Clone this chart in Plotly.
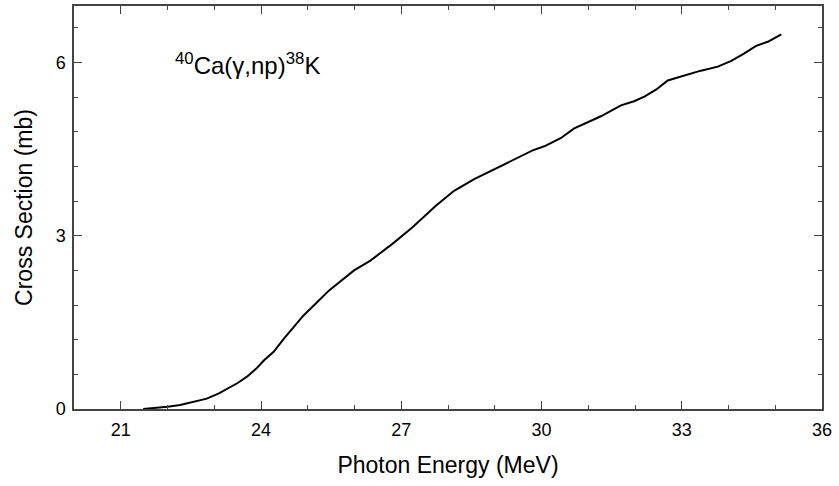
import plotly.graph_objects as go

# Photon energy (MeV) and cross section (mb) for 40Ca(gamma,np)38K
energy = [21.48, 21.8, 22.0, 22.27, 22.5, 22.84, 23.1, 23.34, 23.5, 23.70,
          23.9, 24.06, 24.27, 24.49, 24.70, 24.91, 25.20, 25.45, 25.99, 26.34,
          26.81, 27.23, 27.74, 28.13, 28.56, 29.06, 29.52, 29.81, 30.06, 30.41,
          30.70, 30.99, 31.27, 31.70, 31.98, 32.20, 32.45, 32.70, 33.06, 33.41,
          33.77, 34.06, 34.34, 34.59, 34.84, 35.13]
cross_section = [0.0, 0.02, 0.04, 0.07, 0.11, 0.18, 0.27, 0.37, 0.45, 0.56,
                 0.70, 0.84, 0.99, 1.22, 1.42, 1.62, 1.85, 2.05, 2.40, 2.57,
                 2.86, 3.14, 3.52, 3.78, 3.98, 4.18, 4.36, 4.48, 4.55, 4.69,
                 4.86, 4.97, 5.07, 5.26, 5.33, 5.41, 5.53, 5.69, 5.78, 5.86,
                 5.93, 6.03, 6.16, 6.29, 6.36, 6.49]

x_ticks = [21, 24, 27, 30, 33, 36]
y_ticks = [0, 3, 6]

font_family = "Liberation Sans, Arial, sans-serif"
axis_color = "#444444"

fig = go.Figure()
fig.add_trace(go.Scatter(
    x=energy, y=cross_section, mode="lines",
    line=dict(color="black", width=2),
    showlegend=False,
))

axis_common = dict(
    showline=True, linecolor=axis_color, linewidth=1.5, mirror="allticks",
    ticks="inside", ticklen=8, tickwidth=1, tickcolor=axis_color,
    showgrid=False, zeroline=False,
    tickfont=dict(family=font_family, size=18, color="black"),
    title_font=dict(family=font_family, size=23, color="black"),
)

fig.update_xaxes(
    range=[20, 36], tickvals=x_ticks, ticklabelstandoff=4,
    minor=dict(dtick=1, tick0=20, ticks="inside", ticklen=4, tickcolor=axis_color),
    title_text="Photon Energy (MeV)", title_standoff=18,
    **axis_common,
)
fig.update_yaxes(
    range=[0, 6.98], tickvals=y_ticks, ticklabelstandoff=3,
    minor=dict(dtick=0.6, tick0=0, ticks="inside", ticklen=4, tickcolor=axis_color),
    title_text="Cross Section (mb)", title_standoff=17,
    **axis_common,
)

fig.add_annotation(
    x=22.12, y=5.98, xref="x", yref="y", xanchor="left", yanchor="middle",
    text="<sup>40</sup>Ca(γ,np)<sup>38</sup>K",
    showarrow=False,
    font=dict(family=font_family, size=24, color="black"),
)

fig.update_layout(
    width=839, height=486,
    margin=dict(l=74, r=17, t=4, b=77),
    paper_bgcolor="white", plot_bgcolor="white",
)

fig.write_html("out.html")
